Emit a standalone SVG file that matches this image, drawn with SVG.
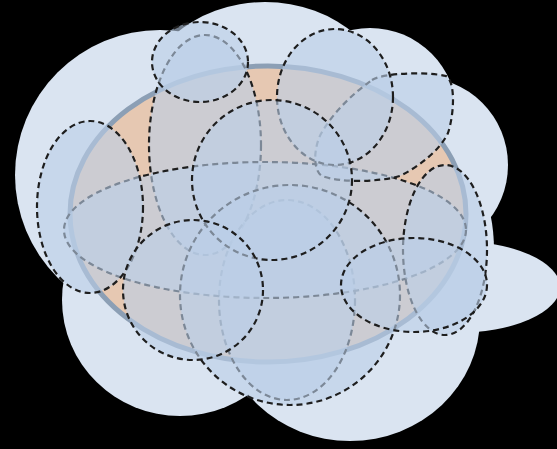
<svg xmlns="http://www.w3.org/2000/svg" width="557" height="449" viewBox="0 0 557 449">
  <style>
    .cloud { fill: #dae4f1; }
    .set { fill: #bbcfe8; fill-opacity: 0.6; stroke: #1e1e1e; stroke-width: 2.2; stroke-dasharray: 6 4; }
    .hull { fill: #e6c8b2; stroke: #8c9fb5; stroke-width: 5; }
  </style>
  <rect x="0" y="0" width="557" height="449" fill="#000"/>
  <g id="cloud">
    <circle class="cloud" cx="160" cy="175" r="145"/>
    <ellipse class="cloud" cx="265" cy="117" rx="130" ry="115"/>
    <circle class="cloud" cx="370" cy="115" r="87"/>
    <circle class="cloud" cx="420" cy="165" r="88"/>
    <ellipse class="cloud" cx="448" cy="250" rx="46" ry="92"/>
    <ellipse class="cloud" cx="180" cy="300" rx="118" ry="116"/>
    <ellipse class="cloud" cx="350" cy="318" rx="130" ry="123"/>
    <ellipse class="cloud" cx="455" cy="287" rx="105" ry="46"/>
  </g>
  <g id="hull">
    <ellipse class="hull" cx="268" cy="214" rx="198" ry="148"/>
  </g>
  <g id="sets">
    <ellipse id="setD" class="set" cx="205" cy="145" rx="56" ry="110"/>
    <ellipse id="setM" class="set" cx="287" cy="300" rx="68" ry="100"/>
    <ellipse id="setW" class="set" cx="265" cy="230" rx="201" ry="68"/>
    <path id="setR1" class="set" d="M 372 80 C 385 72, 430 72, 446 76 C 456 82, 454 115, 448 133 C 440 150, 420 166, 400 176 C 380 182, 340 183, 322 176 C 312 170, 314 145, 322 132 C 335 110, 355 92, 372 80 Z"/>
    <ellipse id="setT" class="set" cx="335" cy="97" rx="58" ry="68"/>
    <circle id="setL2" class="set" cx="290" cy="295" r="110"/>
    <circle id="setC" class="set" cx="272" cy="180" r="80"/>
    <ellipse id="setS1" class="set" cx="200" cy="62" rx="48" ry="40"/>
    <ellipse id="setB" class="set" cx="90" cy="207" rx="53" ry="86"/>
    <circle id="setL1" class="set" cx="193" cy="290" r="70"/>
    <ellipse id="setR2" class="set" cx="445" cy="250" rx="42" ry="85"/>
    <ellipse id="setE2" class="set" cx="414" cy="285" rx="73" ry="47"/>
  </g>
</svg>
